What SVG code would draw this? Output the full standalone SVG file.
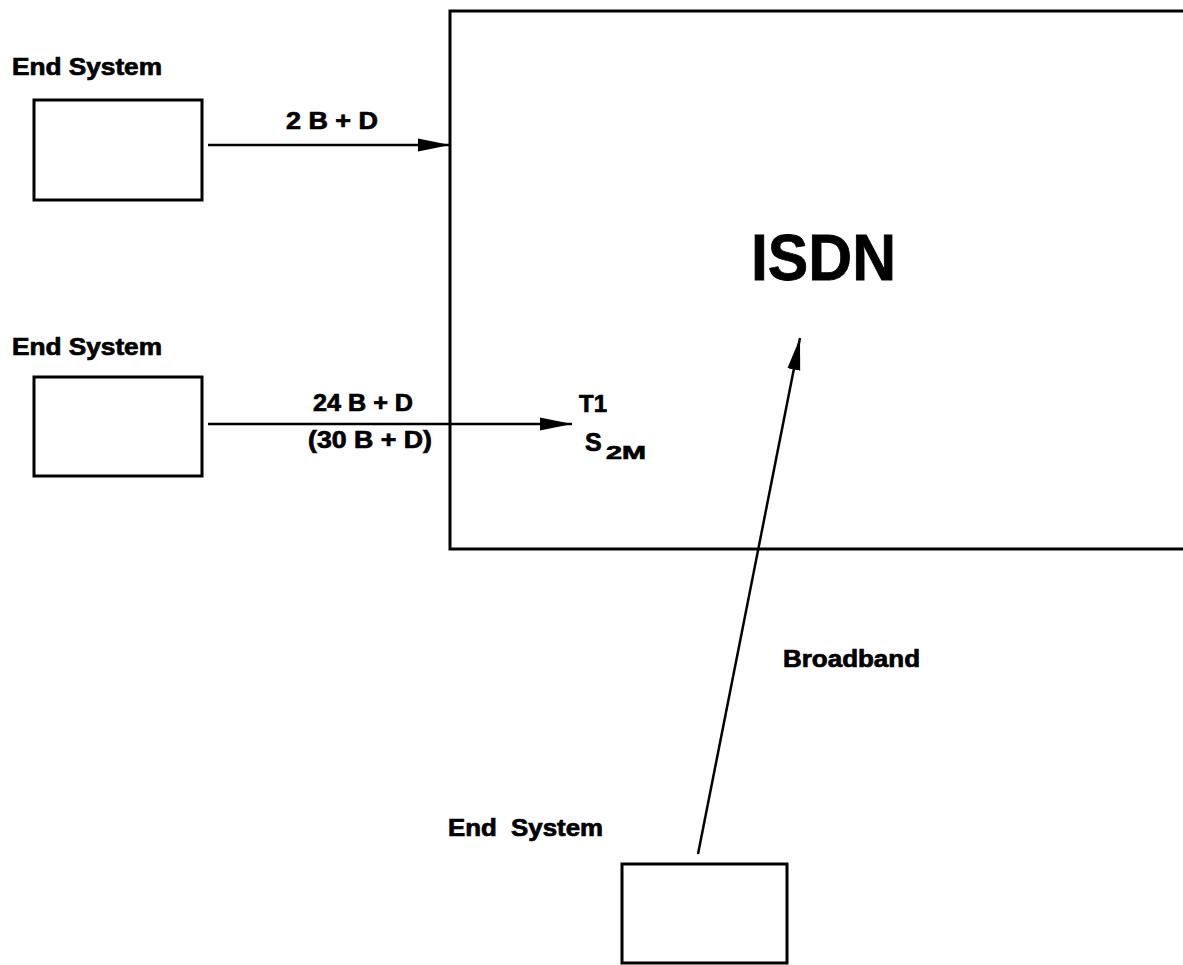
<svg xmlns="http://www.w3.org/2000/svg" width="1183" height="965" viewBox="0 0 1183 965">
<style>
.box{fill:none;stroke:#000;stroke-width:3}
.edge{fill:none;stroke:#000;stroke-width:2.5}
.lbl{font-family:"Liberation Sans",Arial,sans-serif;font-weight:bold;font-size:23px;fill:#000;stroke:#000;stroke-width:0.7}
</style>
<defs>
<marker id="arr" markerUnits="userSpaceOnUse" markerWidth="34" markerHeight="14" refX="32" refY="7" orient="auto">
<path d="M0,0.5 L32,7 L0,13.5 Z" fill="#000"/>
</marker>
</defs>
<rect width="1183" height="965" fill="#fff"/>
<g id="isdn">
<rect class="box" x="450" y="11" width="800" height="538"/>
<text class="lbl" x="751" y="280" textLength="145" lengthAdjust="spacingAndGlyphs" style="font-size:65px;stroke-width:0.8">ISDN</text>
</g>
<g id="es1">
<text class="lbl" x="12" y="75" textLength="150" lengthAdjust="spacingAndGlyphs">End System</text>
<rect class="box" x="34" y="100" width="168" height="100"/>
</g>
<g id="es2">
<text class="lbl" x="12" y="355" textLength="150" lengthAdjust="spacingAndGlyphs">End System</text>
<rect class="box" x="34" y="377" width="168" height="99"/>
</g>
<g id="es3">
<text class="lbl" x="448" y="836" textLength="155" lengthAdjust="spacingAndGlyphs" xml:space="preserve">End  System</text>
<rect class="box" x="622" y="864" width="165" height="99"/>
</g>
<g id="connectors">
<line class="edge" x1="208" y1="145" x2="450" y2="145" marker-end="url(#arr)"/>
<text class="lbl" x="286" y="129" textLength="92" lengthAdjust="spacingAndGlyphs">2 B + D</text>
<line class="edge" x1="208" y1="424" x2="572" y2="424" marker-end="url(#arr)"/>
<text class="lbl" x="313" y="411" textLength="100" lengthAdjust="spacingAndGlyphs">24 B + D</text>
<text class="lbl" x="308" y="448" textLength="124" lengthAdjust="spacingAndGlyphs">(30 B + D)</text>
<text class="lbl" x="579" y="412" textLength="28" lengthAdjust="spacingAndGlyphs">T1</text>
<text class="lbl" x="585" y="451" style="font-size:25px">S</text>
<text class="lbl" x="606" y="459" textLength="40" lengthAdjust="spacingAndGlyphs" style="font-size:19px">2M</text>
<line class="edge" x1="698" y1="854" x2="800" y2="338" marker-end="url(#arr)"/>
<text class="lbl" x="783" y="667" textLength="137" lengthAdjust="spacingAndGlyphs">Broadband</text>
</g>
</svg>
